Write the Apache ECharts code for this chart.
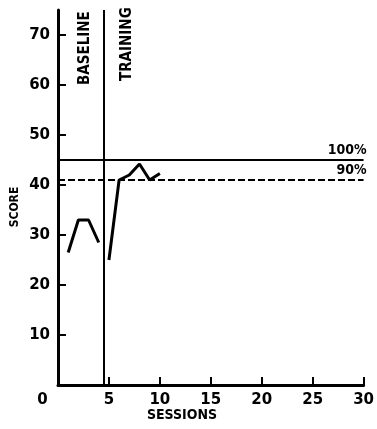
<!DOCTYPE html>
<html>
<head>
<meta charset="utf-8">
<script src="https://cdn.jsdelivr.net/npm/echarts@6/dist/echarts.min.js"></script>
<style>html,body{margin:0;padding:0;background:#fff;}#c{width:377px;height:429px;}</style>
</head>
<body>
<div id="c"></div>
<script>
// Data
var baselineSessions = [1, 2, 3, 4];
var baselineScores = [26.5, 33, 33, 28.5];
var trainingSessions = [5, 6, 7, 8, 9, 10];
var trainingScores = [25, 41, 42, 44.2, 41, 42.3];
var criterion100 = 45;
var criterion90 = 41;
var phaseChange = 4.5;
var xTicks = [0, 5, 10, 15, 20, 25, 30];
var yTicks = [10, 20, 30, 40, 50, 60, 70];
var phaseLabels = ['BASELINE', 'TRAINING'];
var criterionLabels = ['100%', '90%'];

function pairs(xs, ys) { return xs.map(function (x, i) { return [x, ys[i]]; }); }

var chart = echarts.init(document.getElementById('c'), null, {renderer: 'canvas'});
var lblFont = 'DejaVu Sans';
var condFont = '"DejaVu Sans Condensed", "Liberation Sans Narrow", "DejaVu Sans"';

chart.setOption({
  animation: false,
  backgroundColor: '#fff',
  grid: {left: 58, right: 12, top: 10, bottom: 44, containLabel: false},
  xAxis: {
    type: 'value', min: 0, max: 30, interval: 5,
    axisLine: {show: true, lineStyle: {color: '#000', width: 3}},
    axisTick: {show: true, inside: true, length: 8, lineStyle: {color: '#000', width: 2}, customValues: [5, 10, 15, 20, 25, 30]},
    splitLine: {show: false},
    axisLabel: {
      customValues: xTicks,
      color: '#000', fontFamily: lblFont, fontWeight: 'bold', fontSize: 15, margin: 8,
      formatter: function (v) { return v === 0 ? '{z|0}' : String(v); },
      rich: {z: {padding: [0, 31, 0, 0], color: '#000', fontFamily: lblFont, fontWeight: 'bold', fontSize: 15}}
    }
  },
  yAxis: {
    type: 'value', min: 0, max: 75, interval: 5,
    axisLine: {show: true, lineStyle: {color: '#000', width: 3}},
    axisTick: {show: true, inside: true, length: 8, lineStyle: {color: '#000', width: 2}, customValues: yTicks},
    splitLine: {show: false},
    axisLabel: {customValues: yTicks, color: '#000', fontFamily: lblFont, fontWeight: 'bold', fontSize: 15, margin: 8}
  },
  series: [
    {
      type: 'line', data: pairs(baselineSessions, baselineScores), showSymbol: false,
      lineStyle: {color: '#000', width: 3}, z: 5,
      markLine: {
        silent: true, symbol: 'none', animation: false,
        data: [
          {xAxis: phaseChange, lineStyle: {color: '#000', width: 2, type: 'solid'}, label: {show: false}},
          {yAxis: criterion100, lineStyle: {color: '#000', width: 2, type: 'solid'},
            label: {show: true, position: 'insideEndTop', formatter: criterionLabels[0], color: '#000', fontFamily: condFont, fontWeight: 'bold', fontSize: 14, distance: [-3, 3]}},
          {yAxis: criterion90, lineStyle: {color: '#000', width: 2, type: [7, 3]},
            label: {show: true, position: 'insideEndTop', formatter: criterionLabels[1], color: '#000', fontFamily: condFont, fontWeight: 'bold', fontSize: 14, distance: [-3, 3]}}
        ]
      }
    },
    {
      type: 'line', data: pairs(trainingSessions, trainingScores), showSymbol: false,
      lineStyle: {color: '#000', width: 3}, z: 5
    }
  ],
  graphic: [
    {type: 'text', x: 85, y: 85, rotation: Math.PI / 2, style: {text: phaseLabels[0], fill: '#000', font: 'bold 15px ' + condFont, textAlign: 'left', textVerticalAlign: 'middle'}},
    {type: 'text', x: 127, y: 81, rotation: Math.PI / 2, style: {text: phaseLabels[1], fill: '#000', font: 'bold 15px ' + condFont, textAlign: 'left', textVerticalAlign: 'middle'}},
    {type: 'text', x: 15, y: 207, rotation: Math.PI / 2, style: {text: 'SCORE', fill: '#000', font: 'bold 12px ' + condFont, textAlign: 'center', textVerticalAlign: 'middle'}},
    {type: 'text', x: 182, y: 415, style: {text: 'SESSIONS', fill: '#000', font: 'bold 14px ' + condFont, textAlign: 'center', textVerticalAlign: 'middle'}}
  ]
});
</script>
</body>
</html>
